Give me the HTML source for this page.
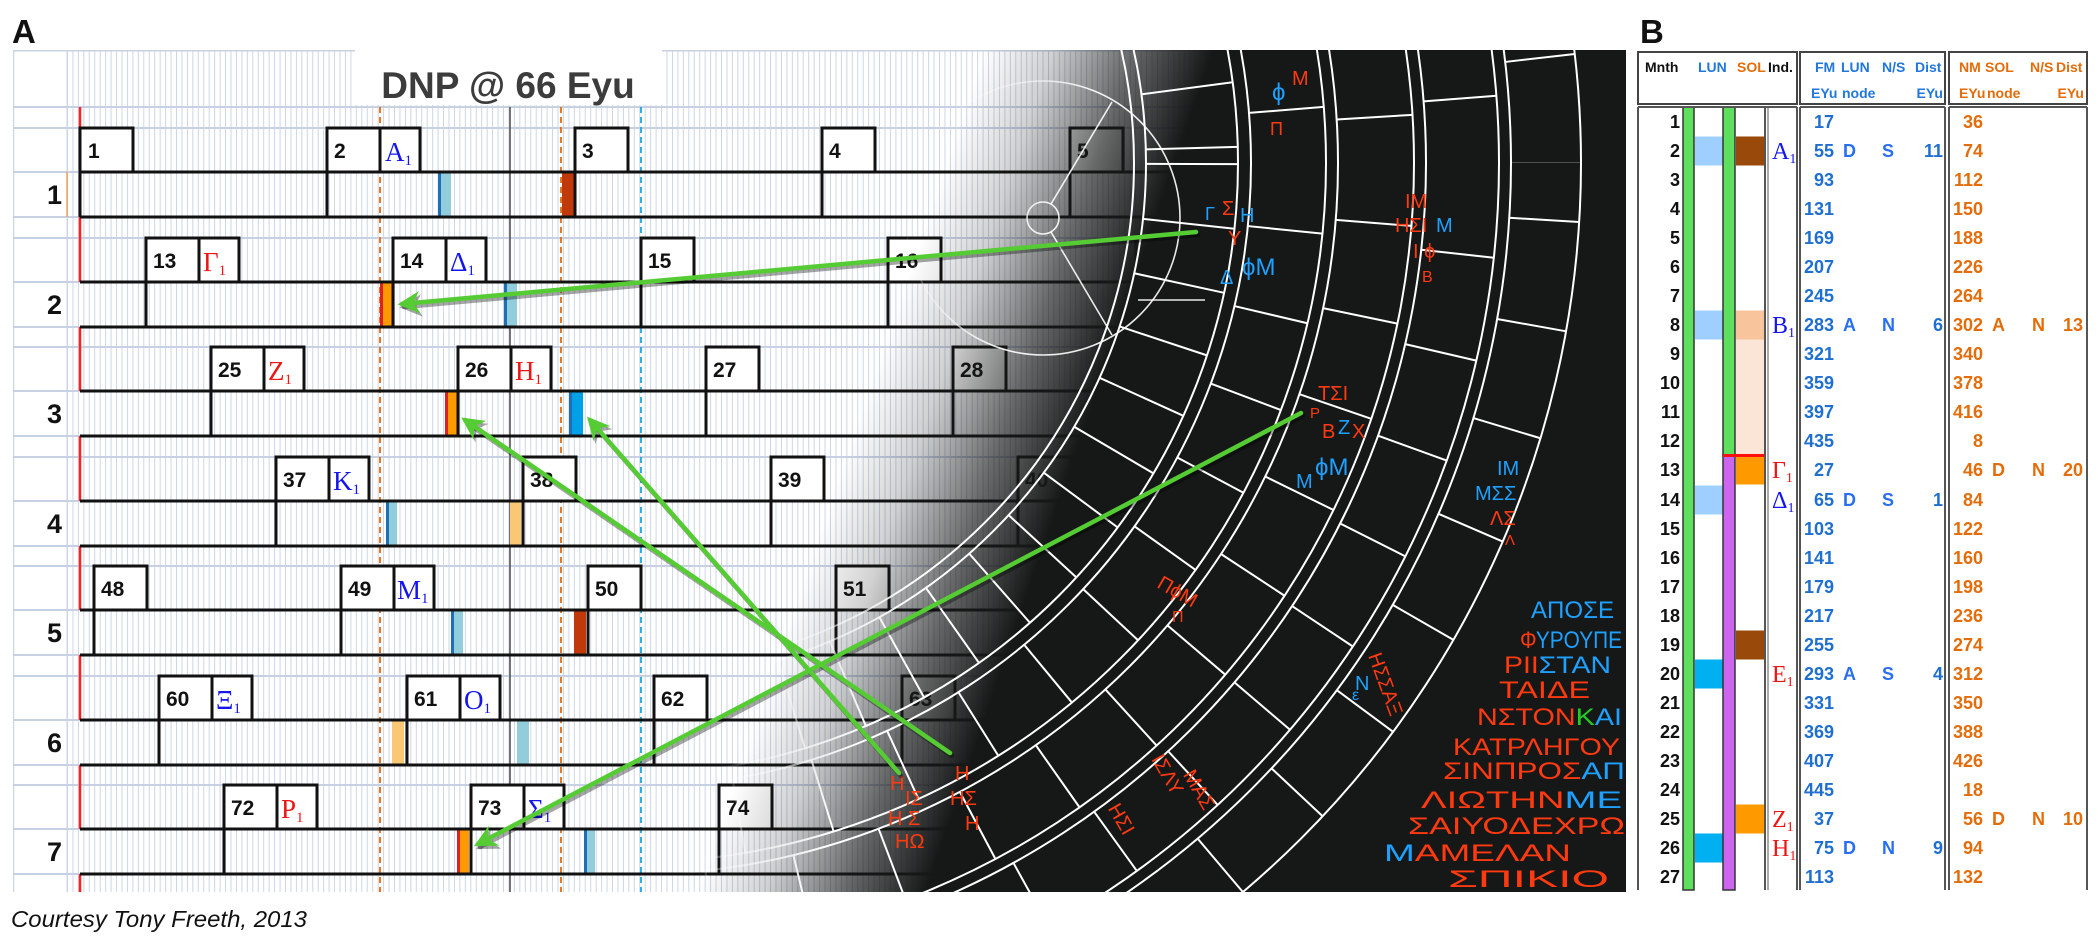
<!DOCTYPE html>
<html><head><meta charset="utf-8"><style>
html,body{margin:0;padding:0;background:#fff;width:2100px;height:946px;overflow:hidden;}
svg{display:block;}
.mn{font-family:"Liberation Sans",sans-serif;font-weight:bold;font-size:21px;fill:#111;}
.gk{font-family:"Liberation Serif",serif;font-size:27px;}
.rl{font-family:"Liberation Sans",sans-serif;font-weight:bold;font-size:27px;fill:#111;}
.tb{font-family:"Liberation Sans",sans-serif;font-weight:bold;font-size:18px;}
.hd{font-family:"Liberation Sans",sans-serif;font-weight:bold;font-size:14px;}
.gl{font-family:"Liberation Sans","DejaVu Sans",sans-serif;font-size:20px;}
.gt{font-family:"Liberation Sans","DejaVu Sans",sans-serif;font-size:24px;}
</style></head><body>
<svg width="2100" height="946" viewBox="0 0 2100 946" xmlns="http://www.w3.org/2000/svg">
<defs>
<pattern id="vg" x="67" y="0" width="5.45" height="10" patternUnits="userSpaceOnUse">
<rect x="0" y="0" width="1" height="10" fill="#cdd5e6"/>
</pattern>
<linearGradient id="dk" gradientUnits="userSpaceOnUse" x1="960" y1="122" x2="1165" y2="192">
<stop offset="0" stop-color="#161818" stop-opacity="0"/>
<stop offset="0.3" stop-color="#161818" stop-opacity="0.2"/>
<stop offset="0.65" stop-color="#161818" stop-opacity="0.65"/>
<stop offset="1" stop-color="#161818" stop-opacity="1"/>
</linearGradient>
<linearGradient id="mk" gradientUnits="userSpaceOnUse" x1="940" y1="115" x2="1060" y2="156">
<stop offset="0" stop-color="#000"/>
<stop offset="1" stop-color="#fff"/>
</linearGradient>
<mask id="am"><rect x="13" y="50" width="1613" height="842" fill="url(#mk)"/></mask>
<clipPath id="pc"><rect x="13" y="50" width="1613" height="842"/></clipPath>
<marker id="ah" viewBox="0 0 10 10" refX="8" refY="5" markerWidth="5" markerHeight="5" orient="auto"><path d="M0,0 L10,5 L0,10 L3,5 z" fill="#55cc33"/></marker>
<marker id="ahs" viewBox="0 0 10 10" refX="8" refY="5" markerWidth="5" markerHeight="5" orient="auto"><path d="M0,0 L10,5 L0,10 L3,5 z" fill="#000" fill-opacity="0.35"/></marker>
</defs>

<text x="12" y="43" font-family="Liberation Sans,sans-serif" font-weight="bold" font-size="33" fill="#111">A</text>
<text x="1640" y="43" font-family="Liberation Sans,sans-serif" font-weight="bold" font-size="33" fill="#111">B</text>
<text x="11" y="927" font-family="Liberation Sans,sans-serif" font-style="italic" font-size="23" fill="#111" textLength="296" lengthAdjust="spacingAndGlyphs">Courtesy Tony Freeth, 2013</text>

<g clip-path="url(#pc)">
<rect x="13" y="50" width="1613" height="842" fill="#fff"/>
<rect x="67" y="50" width="1560" height="842" fill="url(#vg)"/>
<line x1="13.5" y1="50" x2="13.5" y2="892" stroke="#cdd5e6" stroke-width="1.5"/>
<line x1="67" y1="50" x2="67" y2="892" stroke="#cdd5e6" stroke-width="1"/>
<g stroke="#c8d0e4" stroke-width="2">
<line x1="13" y1="50.5" x2="1626" y2="50.5"/>
<line x1="13" y1="107" x2="1626" y2="107"/>
<line x1="13" y1="128" x2="1626" y2="128"/><line x1="13" y1="172" x2="1626" y2="172"/><line x1="13" y1="217" x2="1626" y2="217"/>
<line x1="13" y1="238" x2="1626" y2="238"/><line x1="13" y1="282" x2="1626" y2="282"/><line x1="13" y1="327" x2="1626" y2="327"/>
<line x1="13" y1="347" x2="1626" y2="347"/><line x1="13" y1="391" x2="1626" y2="391"/><line x1="13" y1="436" x2="1626" y2="436"/>
<line x1="13" y1="457" x2="1626" y2="457"/><line x1="13" y1="501" x2="1626" y2="501"/><line x1="13" y1="546" x2="1626" y2="546"/>
<line x1="13" y1="566" x2="1626" y2="566"/><line x1="13" y1="610" x2="1626" y2="610"/><line x1="13" y1="655" x2="1626" y2="655"/>
<line x1="13" y1="676" x2="1626" y2="676"/><line x1="13" y1="720" x2="1626" y2="720"/><line x1="13" y1="765" x2="1626" y2="765"/>
<line x1="13" y1="785" x2="1626" y2="785"/><line x1="13" y1="829" x2="1626" y2="829"/><line x1="13" y1="874" x2="1626" y2="874"/>
</g>

<rect x="355" y="50" width="307" height="55" fill="#fff"/>
<text x="508" y="98" text-anchor="middle" font-family="Liberation Sans,sans-serif" font-weight="bold" font-size="37" fill="#3c3c3c">DNP @ 66 Eyu</text>

<line x1="380" y1="107" x2="380" y2="892" stroke="#e46c0a" stroke-width="1.8" stroke-dasharray="6,4"/>
<line x1="561" y1="107" x2="561" y2="892" stroke="#e46c0a" stroke-width="1.8" stroke-dasharray="6,4"/>
<line x1="641" y1="107" x2="641" y2="892" stroke="#1aa8e8" stroke-width="1.8" stroke-dasharray="6,4"/>
<line x1="510" y1="107" x2="510" y2="892" stroke="#555" stroke-width="1.6"/>

<g stroke="#ff2020" stroke-width="2.5">
<line x1="80" y1="107" x2="80" y2="282"/><line x1="80" y1="327" x2="80" y2="391"/><line x1="80" y1="436" x2="80" y2="501"/>
<line x1="80" y1="546" x2="80" y2="610"/><line x1="80" y1="655" x2="80" y2="720"/><line x1="80" y1="765" x2="80" y2="829"/><line x1="80" y1="874" x2="80" y2="892"/>
</g>
<line x1="67" y1="172" x2="67" y2="217" stroke="#f0a060" stroke-width="1.5"/>

<g>
<rect x="438" y="172" width="13" height="45" fill="#92cddc"/><rect x="438" y="172" width="3" height="45" fill="#1f6fb5"/>
<rect x="562" y="172" width="13" height="45" fill="#c0390b"/>
<rect x="380" y="282" width="13" height="45" fill="#ff9900"/><rect x="380" y="282" width="3" height="45" fill="#e02020"/>
<rect x="504" y="282" width="13" height="45" fill="#92cddc"/><rect x="504" y="282" width="3" height="45" fill="#1f6fb5"/>
<rect x="445" y="391" width="13" height="45" fill="#ff9900"/><rect x="445" y="391" width="3" height="45" fill="#e02020"/>
<rect x="569" y="391" width="14" height="45" fill="#00a0e6"/><rect x="569" y="391" width="3" height="45" fill="#1f6fb5"/>
<rect x="386" y="501" width="11" height="45" fill="#92cddc"/><rect x="386" y="501" width="3" height="45" fill="#1f6fb5"/>
<rect x="510" y="501" width="11" height="45" fill="#fac775"/>
<rect x="451" y="610" width="12" height="45" fill="#92cddc"/><rect x="451" y="610" width="3" height="45" fill="#1f6fb5"/>
<rect x="574" y="610" width="12" height="45" fill="#c0390b"/>
<rect x="392" y="720" width="12" height="45" fill="#fac775"/>
<rect x="517" y="720" width="12" height="45" fill="#92cddc"/>
<rect x="457" y="829" width="12" height="45" fill="#ff9900"/><rect x="457" y="829" width="3" height="45" fill="#e02020"/>
<rect x="584" y="829" width="11" height="45" fill="#92cddc"/><rect x="584" y="829" width="3" height="45" fill="#1f6fb5"/>
</g>

<g stroke="#111" stroke-width="3">
<line x1="80" y1="172" x2="1626" y2="172"/><line x1="80" y1="217" x2="1626" y2="217"/>
<line x1="80" y1="282" x2="1626" y2="282"/><line x1="80" y1="327" x2="1626" y2="327"/>
<line x1="80" y1="391" x2="1626" y2="391"/><line x1="80" y1="436" x2="1626" y2="436"/>
<line x1="80" y1="501" x2="1626" y2="501"/><line x1="80" y1="546" x2="1626" y2="546"/>
<line x1="80" y1="610" x2="1626" y2="610"/><line x1="80" y1="655" x2="1626" y2="655"/>
<line x1="80" y1="720" x2="1626" y2="720"/><line x1="80" y1="765" x2="1626" y2="765"/>
<line x1="80" y1="829" x2="1626" y2="829"/><line x1="80" y1="874" x2="1626" y2="874"/>
</g>
<g stroke="#111" stroke-width="3">
<line x1="80" y1="172" x2="80" y2="217"/><line x1="327" y1="172" x2="327" y2="217"/><line x1="575" y1="172" x2="575" y2="217"/><line x1="822" y1="172" x2="822" y2="217"/><line x1="1070" y1="172" x2="1070" y2="217"/><line x1="1317" y1="172" x2="1317" y2="217"/>
<line x1="146" y1="282" x2="146" y2="327"/><line x1="393" y1="282" x2="393" y2="327"/><line x1="641" y1="282" x2="641" y2="327"/><line x1="888" y1="282" x2="888" y2="327"/><line x1="1136" y1="282" x2="1136" y2="327"/><line x1="1383" y1="282" x2="1383" y2="327"/>
<line x1="211" y1="391" x2="211" y2="436"/><line x1="458" y1="391" x2="458" y2="436"/><line x1="706" y1="391" x2="706" y2="436"/><line x1="953" y1="391" x2="953" y2="436"/><line x1="1200" y1="391" x2="1200" y2="436"/>
<line x1="276" y1="501" x2="276" y2="546"/><line x1="523" y1="501" x2="523" y2="546"/><line x1="771" y1="501" x2="771" y2="546"/><line x1="1018" y1="501" x2="1018" y2="546"/><line x1="1265" y1="501" x2="1265" y2="546"/>
<line x1="94" y1="610" x2="94" y2="655"/><line x1="341" y1="610" x2="341" y2="655"/><line x1="588" y1="610" x2="588" y2="655"/><line x1="836" y1="610" x2="836" y2="655"/><line x1="1083" y1="610" x2="1083" y2="655"/>
<line x1="159" y1="720" x2="159" y2="765"/><line x1="407" y1="720" x2="407" y2="765"/><line x1="654" y1="720" x2="654" y2="765"/><line x1="902" y1="720" x2="902" y2="765"/><line x1="1149" y1="720" x2="1149" y2="765"/>
<line x1="224" y1="829" x2="224" y2="874"/><line x1="471" y1="829" x2="471" y2="874"/><line x1="719" y1="829" x2="719" y2="874"/><line x1="966" y1="829" x2="966" y2="874"/><line x1="1213" y1="829" x2="1213" y2="874"/>
</g>

<g fill="#fff" stroke="#111" stroke-width="3">
<rect x="80" y="128" width="53" height="44"/><rect x="327" y="128" width="53" height="44"/><rect x="380" y="128" width="40" height="44"/><rect x="575" y="128" width="53" height="44"/><rect x="822" y="128" width="53" height="44"/><rect x="1070" y="128" width="53" height="44"/><rect x="1317" y="128" width="53" height="44"/>
<rect x="146" y="238" width="53" height="44"/><rect x="199" y="238" width="40" height="44"/><rect x="393" y="238" width="53" height="44"/><rect x="446" y="238" width="40" height="44"/><rect x="641" y="238" width="53" height="44"/><rect x="888" y="238" width="53" height="44"/><rect x="1136" y="238" width="53" height="44"/>
<rect x="211" y="347" width="53" height="44"/><rect x="264" y="347" width="40" height="44"/><rect x="458" y="347" width="53" height="44"/><rect x="511" y="347" width="40" height="44"/><rect x="706" y="347" width="53" height="44"/><rect x="953" y="347" width="53" height="44"/><rect x="1200" y="347" width="53" height="44"/>
<rect x="276" y="457" width="53" height="44"/><rect x="329" y="457" width="40" height="44"/><rect x="523" y="457" width="53" height="44"/><rect x="771" y="457" width="53" height="44"/><rect x="1018" y="457" width="53" height="44"/>
<rect x="94" y="566" width="53" height="44"/><rect x="341" y="566" width="53" height="44"/><rect x="394" y="566" width="40" height="44"/><rect x="588" y="566" width="53" height="44"/><rect x="836" y="566" width="53" height="44"/><rect x="1083" y="566" width="53" height="44"/>
<rect x="159" y="676" width="53" height="44"/><rect x="212" y="676" width="40" height="44"/><rect x="407" y="676" width="53" height="44"/><rect x="460" y="676" width="40" height="44"/><rect x="654" y="676" width="53" height="44"/><rect x="902" y="676" width="53" height="44"/><rect x="1149" y="676" width="53" height="44"/>
<rect x="224" y="785" width="53" height="44"/><rect x="277" y="785" width="40" height="44"/><rect x="471" y="785" width="53" height="44"/><rect x="524" y="785" width="40" height="44"/><rect x="719" y="785" width="53" height="44"/><rect x="966" y="785" width="53" height="44"/>
</g>
<g class="mn">
<text x="88" y="158">1</text><text x="334" y="158">2</text><text x="582" y="158">3</text><text x="829" y="158">4</text><text x="1077" y="158">5</text>
<text x="153" y="268">13</text><text x="400" y="268">14</text><text x="648" y="268">15</text><text x="895" y="268">16</text><text x="1143" y="268">17</text>
<text x="218" y="377">25</text><text x="465" y="377">26</text><text x="713" y="377">27</text><text x="960" y="377">28</text>
<text x="283" y="487">37</text><text x="530" y="487">38</text><text x="778" y="487">39</text><text x="1025" y="487">40</text>
<text x="101" y="596">48</text><text x="348" y="596">49</text><text x="595" y="596">50</text><text x="843" y="596">51</text>
<text x="166" y="706">60</text><text x="414" y="706">61</text><text x="661" y="706">62</text><text x="909" y="706">63</text>
<text x="231" y="815">72</text><text x="478" y="815">73</text><text x="726" y="815">74</text>
</g>
<g class="gk">
<text x="385" y="161" fill="#1515ee">A<tspan font-size="15" dy="4">1</tspan></text>
<text x="203" y="271" fill="#ee1515">Γ<tspan font-size="15" dy="4">1</tspan></text>
<text x="450" y="271" fill="#1515ee">Δ<tspan font-size="15" dy="4">1</tspan></text>
<text x="268" y="380" fill="#ee1515">Z<tspan font-size="15" dy="4">1</tspan></text>
<text x="515" y="380" fill="#ee1515">H<tspan font-size="15" dy="4">1</tspan></text>
<text x="333" y="490" fill="#1515ee">K<tspan font-size="15" dy="4">1</tspan></text>
<text x="397" y="599" fill="#1515ee">M<tspan font-size="15" dy="4">1</tspan></text>
<text x="216" y="709" fill="#1515ee">Ξ<tspan font-size="15" dy="4">1</tspan></text>
<text x="464" y="709" fill="#1515ee">O<tspan font-size="15" dy="4">1</tspan></text>
<text x="281" y="818" fill="#ee1515">P<tspan font-size="15" dy="4">1</tspan></text>
<text x="528" y="818" fill="#1515ee">Σ<tspan font-size="15" dy="4">1</tspan></text>
</g>
<g class="rl">
<text x="47" y="204">1</text><text x="47" y="314">2</text><text x="47" y="423">3</text><text x="47" y="533">4</text><text x="47" y="642">5</text><text x="47" y="752">6</text><text x="47" y="861">7</text>
</g>

<rect x="13" y="50" width="1613" height="842" fill="url(#dk)"/>

<g mask="url(#am)" fill="none" stroke="#fff">
<g stroke-width="2">
<circle cx="626" cy="163" r="508"/><circle cx="626" cy="163" r="520"/>
<circle cx="626" cy="163" r="612"/><circle cx="626" cy="163" r="625"/>
<circle cx="626" cy="163" r="700"/><circle cx="626" cy="163" r="712"/>
<circle cx="626" cy="163" r="788"/><circle cx="626" cy="163" r="800"/>
<circle cx="626" cy="163" r="873"/><circle cx="626" cy="163" r="885"/>
<circle cx="626" cy="163" r="955"/>
</g>
<circle cx="626" cy="163" r="566" stroke-width="92" stroke-dasharray="2,58"/>
<circle cx="626" cy="163" r="662.5" stroke-width="75" stroke-dasharray="2,84" stroke-dashoffset="20"/>
<circle cx="626" cy="163" r="750" stroke-width="76" stroke-dasharray="2,92" stroke-dashoffset="35"/>
<circle cx="626" cy="163" r="836.5" stroke-width="73" stroke-dasharray="2,98" stroke-dashoffset="10"/>
<circle cx="626" cy="163" r="920" stroke-width="70" stroke-dasharray="2,104" stroke-dashoffset="50"/>
<g stroke-width="1.6" stroke-opacity="0.9">
<circle cx="1043" cy="218" r="137"/>
<circle cx="1043" cy="218" r="16"/>
<line x1="1051" y1="204" x2="1112" y2="102"/>
<line x1="1051" y1="232" x2="1112" y2="335"/>
<line x1="1138" y1="300" x2="1205" y2="300"/>
</g>
</g>
</g>

<g class="gl">
<text x="1272" y="100" fill="#1ea0ff" font-size="24">ϕ</text><text x="1292" y="85" fill="#ff3a10">Μ</text><text x="1270" y="135" fill="#ff3a10" font-size="18">Π</text>
<text x="1205" y="220" fill="#1ea0ff" font-size="18">Γ</text><text x="1222" y="215" fill="#ff3a10">Σ</text><text x="1240" y="222" fill="#1ea0ff">Η</text><text x="1228" y="245" fill="#ff3a10">Υ</text>
<text x="1220" y="284" fill="#1ea0ff">Δ</text><text x="1242" y="275" fill="#1ea0ff" font-size="24">ϕΜ</text>
<text x="1405" y="208" fill="#ff3a10">ΙΜ</text><text x="1395" y="232" fill="#ff3a10">ΗΣΙ</text><text x="1436" y="232" fill="#1ea0ff">Μ</text><text x="1413" y="258" fill="#ff3a10">Ι ϕ</text><text x="1422" y="282" fill="#ff3a10" font-size="16">Β</text>
<text x="1318" y="400" fill="#ff3a10">ΤΣΙ</text><text x="1310" y="418" fill="#ff3a10" font-size="15">Ρ</text><text x="1322" y="438" fill="#ff3a10">Β</text><text x="1338" y="434" fill="#1ea0ff">Ζ</text><text x="1352" y="438" fill="#ff3a10">Χ</text>
<text x="1296" y="488" fill="#1ea0ff">Μ</text><text x="1315" y="475" fill="#1ea0ff" font-size="24">ϕΜ</text>
<text x="1497" y="475" fill="#1ea0ff">ΙΜ</text><text x="1475" y="500" fill="#1ea0ff">ΜΣΣ</text><text x="1490" y="525" fill="#ff3a10">ΛΣ</text><text x="1505" y="545" fill="#ff3a10" font-size="15">Λ</text>
<text x="1155" y="600" fill="#ff3a10" transform="rotate(30 1180 595)">ΠϕΜ</text><text x="1172" y="622" fill="#ff3a10" font-size="16">Π</text>
<text x="1330" y="650" fill="#ff3a10" transform="rotate(70 1345 680)">ΗΣΣΑΞ</text><text x="1355" y="690" fill="#1ea0ff">Ν</text><text x="1352" y="700" fill="#1ea0ff" font-size="16">ε</text>
<text x="1110" y="770" fill="#ff3a10" transform="rotate(60 1140 800)">ΙΣΛΥ</text><text x="1095" y="830" fill="#ff3a10" transform="rotate(60 1120 830)">ΗΣΙ</text>
<text x="1168" y="780" fill="#ff3a10" transform="rotate(60 1180 790)">ΜΑΣ</text>
<text x="890" y="790" fill="#ff3a10">Η</text><text x="905" y="805" fill="#ff3a10">ΙΣ</text><text x="888" y="825" fill="#ff3a10">Η Σ</text><text x="895" y="848" fill="#ff3a10">ΗΩ</text>
<text x="955" y="780" fill="#ff3a10">Η</text><text x="950" y="805" fill="#ff3a10">ΗΣ</text><text x="965" y="830" fill="#ff3a10">Η</text>
</g>
<g class="gt">
<text x="1531" y="618" fill="#1ea0ff" textLength="83" lengthAdjust="spacingAndGlyphs">ΑΠΟΣΕ</text>
<text x="1520" y="648" textLength="102" lengthAdjust="spacingAndGlyphs"><tspan fill="#ff3a10">Φ</tspan><tspan fill="#1ea0ff">ΥΡΟΥΠΕ</tspan></text>
<text x="1504" y="673" textLength="107" lengthAdjust="spacingAndGlyphs"><tspan fill="#ff3a10">ΡΙΙ</tspan><tspan fill="#1ea0ff">ΣΤΑΝ</tspan></text>
<text x="1499" y="698" fill="#ff3a10" textLength="91" lengthAdjust="spacingAndGlyphs">ΤΑΙΔΕ</text>
<text x="1477" y="725" textLength="145" lengthAdjust="spacingAndGlyphs"><tspan fill="#ff3a10">ΝΣΤΟΝ</tspan><tspan fill="#22cc22">Κ</tspan><tspan fill="#1ea0ff">ΑΙ</tspan></text>
<text x="1453" y="755" fill="#ff3a10" textLength="167" lengthAdjust="spacingAndGlyphs">ΚΑΤΡΛΗΓΟΥ</text>
<text x="1443" y="779" textLength="182" lengthAdjust="spacingAndGlyphs"><tspan fill="#ff3a10">ΣΙΝΠΡΟΣ</tspan><tspan fill="#1ea0ff">ΑΠ</tspan></text>
<text x="1421" y="808" textLength="201" lengthAdjust="spacingAndGlyphs"><tspan fill="#ff3a10">ΛΙΩΤΗΝ</tspan><tspan fill="#1ea0ff">ΜΕ</tspan></text>
<text x="1408" y="834" fill="#ff3a10" textLength="217" lengthAdjust="spacingAndGlyphs">ΣΑΙΥΟΔΕΧΡΩ</text>
<text x="1384" y="861" textLength="187" lengthAdjust="spacingAndGlyphs"><tspan fill="#1ea0ff">Μ</tspan><tspan fill="#ff3a10">ΑΜΕΛΑΝ</tspan></text>
<text x="1448" y="887" fill="#ff3a10" textLength="161" lengthAdjust="spacingAndGlyphs">ΣΠΙΚΙΟ</text>
</g>

<g fill="none" stroke-width="4.5" stroke-linecap="round">
<g stroke="#000" stroke-opacity="0.35" transform="translate(2,3)">
<line x1="1196" y1="232" x2="402" y2="304" marker-end="url(#ahs)"/>
<line x1="1301" y1="413" x2="478" y2="844" marker-end="url(#ahs)"/>
<line x1="899" y1="773" x2="590" y2="420" marker-end="url(#ahs)"/>
<line x1="950" y1="753" x2="465" y2="420" marker-end="url(#ahs)"/>
</g>
<g stroke="#55cc33">
<line x1="1196" y1="232" x2="402" y2="304" marker-end="url(#ah)"/>
<line x1="1301" y1="413" x2="478" y2="844" marker-end="url(#ah)"/>
<line x1="899" y1="773" x2="590" y2="420" marker-end="url(#ah)"/>
<line x1="950" y1="753" x2="465" y2="420" marker-end="url(#ah)"/>
</g>
</g>

<g fill="none" stroke="#444" stroke-width="2">
<rect x="1638" y="52" width="159" height="52"/>
<rect x="1800" y="52" width="145" height="52"/>
<rect x="1949" y="52" width="138" height="52"/>
</g>
<g class="hd">
<text x="1645" y="72" fill="#111">Mnth</text><text x="1698" y="72" fill="#2277dd">LUN</text><text x="1737" y="72" fill="#e46c0a">SOL</text><text x="1768" y="72" fill="#111">Ind.</text>
<text x="1815" y="72" fill="#2277dd">FM</text><text x="1841" y="72" fill="#2277dd">LUN</text><text x="1882" y="72" fill="#2277dd">N/S</text><text x="1915" y="72" fill="#2277dd">Dist</text>
<text x="1811" y="98" fill="#2277dd">EYu</text><text x="1842" y="98" fill="#2277dd">node</text><text x="1943" y="98" fill="#2277dd" text-anchor="end">EYu</text>
<text x="1959" y="72" fill="#e46c0a">NM</text><text x="1985" y="72" fill="#e46c0a">SOL</text><text x="2030" y="72" fill="#e46c0a">N/S</text><text x="2056" y="72" fill="#e46c0a">Dist</text>
<text x="1959" y="98" fill="#e46c0a">EYu</text><text x="1987" y="98" fill="#e46c0a">node</text><text x="2084" y="98" fill="#e46c0a" text-anchor="end">EYu</text>
</g>
<rect x="1695" y="136.5" width="28" height="29" fill="#9fcfff"/>
<rect x="1695" y="310.5" width="28" height="29" fill="#9fcfff"/>
<rect x="1695" y="485.5" width="28" height="29" fill="#9fcfff"/>
<rect x="1695" y="659.5" width="28" height="29" fill="#00b0f0"/>
<rect x="1695" y="833.5" width="28" height="29" fill="#00b0f0"/>
<rect x="1736" y="136.5" width="29" height="29" fill="#994a0a"/>
<rect x="1736" y="310.5" width="29" height="29" fill="#f8c49c"/>
<rect x="1736" y="339.5" width="29" height="116" fill="#fbe5d6"/>
<rect x="1736" y="455.5" width="29" height="29" fill="#ff9900"/>
<rect x="1736" y="630.5" width="29" height="29" fill="#994a0a"/>
<rect x="1736" y="804.5" width="29" height="29" fill="#ff9900"/>
<rect x="1683" y="107" width="11" height="783" fill="#5ee05e" stroke="#333" stroke-width="1.5"/>
<rect x="1723" y="107" width="12" height="348" fill="#5ee05e" stroke="#333" stroke-width="1.5"/>
<rect x="1723" y="455" width="12" height="435" fill="#cc66ee" stroke="#333" stroke-width="1.5"/>
<line x1="1723" y1="455.5" x2="1765" y2="455.5" stroke="#ff1010" stroke-width="3"/>
<g stroke="#555" stroke-width="2">
<line x1="1638" y1="107" x2="1797" y2="107"/><line x1="1800" y1="107" x2="1945" y2="107"/><line x1="1949" y1="107" x2="2087" y2="107"/>
<line x1="1638" y1="107" x2="1638" y2="890"/>
<line x1="1765" y1="107" x2="1765" y2="890"/><line x1="1768" y1="107" x2="1768" y2="890" stroke-width="1"/>
<line x1="1797" y1="107" x2="1797" y2="890"/><line x1="1800" y1="107" x2="1800" y2="890"/>
<line x1="1945" y1="107" x2="1945" y2="890"/><line x1="1949" y1="107" x2="1949" y2="890"/>
<line x1="2087" y1="107" x2="2087" y2="890"/>
</g>
<g class="tb" fill="#111" text-anchor="end">
<text x="1680" y="128">1</text><text x="1680" y="157">2</text><text x="1680" y="186">3</text><text x="1680" y="215">4</text><text x="1680" y="244">5</text><text x="1680" y="273">6</text><text x="1680" y="302">7</text><text x="1680" y="331">8</text><text x="1680" y="360">9</text><text x="1680" y="389">10</text><text x="1680" y="418">11</text><text x="1680" y="447">12</text><text x="1680" y="476">13</text><text x="1680" y="506">14</text><text x="1680" y="535">15</text><text x="1680" y="564">16</text><text x="1680" y="593">17</text><text x="1680" y="622">18</text><text x="1680" y="651">19</text><text x="1680" y="680">20</text><text x="1680" y="709">21</text><text x="1680" y="738">22</text><text x="1680" y="767">23</text><text x="1680" y="796">24</text><text x="1680" y="825">25</text><text x="1680" y="854">26</text><text x="1680" y="883">27</text>
</g>
<g font-family="Liberation Serif,serif" font-size="24">
<text x="1772" y="159" fill="#1515ee">A<tspan font-size="14" dy="4">1</tspan></text>
<text x="1772" y="333" fill="#1515ee">B<tspan font-size="14" dy="4">1</tspan></text>
<text x="1772" y="478" fill="#ee1515">Γ<tspan font-size="14" dy="4">1</tspan></text>
<text x="1772" y="508" fill="#1515ee">Δ<tspan font-size="14" dy="4">1</tspan></text>
<text x="1772" y="682" fill="#ee1515">E<tspan font-size="14" dy="4">1</tspan></text>
<text x="1772" y="827" fill="#ee1515">Z<tspan font-size="14" dy="4">1</tspan></text>
<text x="1772" y="856" fill="#ee1515">H<tspan font-size="14" dy="4">1</tspan></text>
</g>
<g class="tb" fill="#1f6fd0" text-anchor="end">
<text x="1834" y="128">17</text><text x="1834" y="157">55</text><text x="1834" y="186">93</text><text x="1834" y="215">131</text><text x="1834" y="244">169</text><text x="1834" y="273">207</text><text x="1834" y="302">245</text><text x="1834" y="331">283</text><text x="1834" y="360">321</text><text x="1834" y="389">359</text><text x="1834" y="418">397</text><text x="1834" y="447">435</text><text x="1834" y="476">27</text><text x="1834" y="506">65</text><text x="1834" y="535">103</text><text x="1834" y="564">141</text><text x="1834" y="593">179</text><text x="1834" y="622">217</text><text x="1834" y="651">255</text><text x="1834" y="680">293</text><text x="1834" y="709">331</text><text x="1834" y="738">369</text><text x="1834" y="767">407</text><text x="1834" y="796">445</text><text x="1834" y="825">37</text><text x="1834" y="854">75</text><text x="1834" y="883">113</text>
<text x="1943" y="157">11</text><text x="1943" y="331">6</text><text x="1943" y="506">1</text><text x="1943" y="680">4</text><text x="1943" y="854">9</text>
</g>
<g class="tb" fill="#2a6ff0">
<text x="1843" y="157">D</text><text x="1882" y="157">S</text>
<text x="1843" y="331">A</text><text x="1882" y="331">N</text>
<text x="1843" y="506">D</text><text x="1882" y="506">S</text>
<text x="1843" y="680">A</text><text x="1882" y="680">S</text>
<text x="1843" y="854">D</text><text x="1882" y="854">N</text>
</g>
<g class="tb" fill="#e46c0a" text-anchor="end">
<text x="1983" y="128">36</text><text x="1983" y="157">74</text><text x="1983" y="186">112</text><text x="1983" y="215">150</text><text x="1983" y="244">188</text><text x="1983" y="273">226</text><text x="1983" y="302">264</text><text x="1983" y="331">302</text><text x="1983" y="360">340</text><text x="1983" y="389">378</text><text x="1983" y="418">416</text><text x="1983" y="447">8</text><text x="1983" y="476">46</text><text x="1983" y="506">84</text><text x="1983" y="535">122</text><text x="1983" y="564">160</text><text x="1983" y="593">198</text><text x="1983" y="622">236</text><text x="1983" y="651">274</text><text x="1983" y="680">312</text><text x="1983" y="709">350</text><text x="1983" y="738">388</text><text x="1983" y="767">426</text><text x="1983" y="796">18</text><text x="1983" y="825">56</text><text x="1983" y="854">94</text><text x="1983" y="883">132</text>
<text x="2083" y="331">13</text><text x="2083" y="476">20</text><text x="2083" y="825">10</text>
</g>
<g class="tb" fill="#e46c0a">
<text x="1992" y="331">A</text><text x="2032" y="331">N</text>
<text x="1992" y="476">D</text><text x="2032" y="476">N</text>
<text x="1992" y="825">D</text><text x="2032" y="825">N</text>
</g>
</svg>
</body></html>
